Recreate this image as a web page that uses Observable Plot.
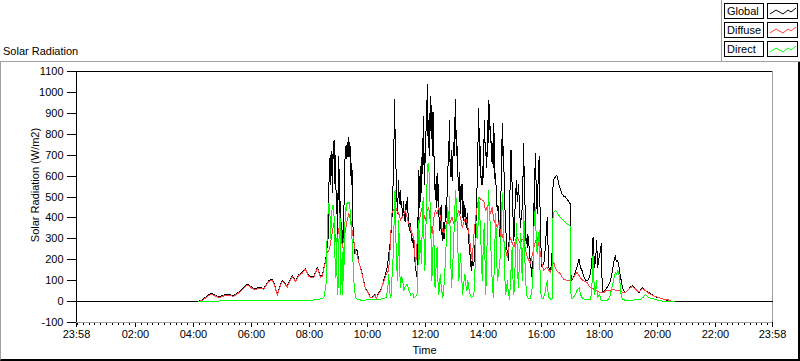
<!DOCTYPE html>
<html>
<head>
<meta charset="utf-8">
<script src="https://cdn.jsdelivr.net/npm/d3@7"></script>
<script src="https://cdn.jsdelivr.net/npm/@observablehq/plot@0.6"></script>
<style>
  html, body { margin: 0; padding: 0; background: #fff; }
  body { width: 800px; height: 361px; position: relative; overflow: hidden;
         font-family: "Liberation Sans", Arial, sans-serif; font-size: 11px; color: #000; }
  #panel { position: absolute; left: 0; top: 61px; width: 800px; height: 300px; box-sizing: border-box;
           border-top: 1px solid #a0a0a0; border-left: 1px solid #a0a0a0;
           border-right: 2px solid #000; border-bottom: 2px solid #000; }
  #chart { position: absolute; left: 0; top: 0; }
  #title { position: absolute; left: 3px; top: 45px; line-height: 13px; }
  #ylabel { position: absolute; left: 35px; top: 185px; transform: translate(-50%, -50%) rotate(-90deg);
            white-space: nowrap; line-height: 13px; }
  #legend { position: absolute; left: 721px; top: 0; width: 79px; height: 62px; box-sizing: border-box;
            border-left: 1px solid #a0a0a0; border-bottom: 1px solid #a0a0a0; background: #fff; }
  .lab { position: absolute; left: 2px; width: 40px; height: 16px; box-sizing: border-box; border: 1px solid #000;
         background: #fff; line-height: 14px; padding-left: 2px; }
  .smp { position: absolute; left: 45px; width: 31px; height: 16px; box-sizing: border-box; border: 1px solid #000;
         background: #fff; }
  .smp svg { position: absolute; left: 0; top: 0; }
  #chart svg path { shape-rendering: crispEdges; }
</style>
</head>
<body>
<div id="panel"></div>
<div id="chart"></div>
<div id="title">Solar Radiation</div>
<div id="ylabel"></div>
<div id="legend"></div>
<script>
// ---- data (hours since midnight, W/m2) ----
const seriesNames = ["Global", "Diffuse", "Direct"];
const seriesColors = ["#000000", "#ff4040", "#00ff00"];

const globalData = [[-0.0333,0],[4.15,0],[4.3,8],[4.45,25],[4.59,38],[4.7,35],[4.87,23],[5.0,28],[5.1,35],[5.25,33],[5.39,29],[5.5,40],[5.62,51],[5.75,70],[5.85,84],[5.95,75],[6.02,67],[6.14,60],[6.22,68],[6.31,67],[6.43,63],[6.52,85],[6.6,100],[6.71,108],[6.8,80],[6.89,35],[6.97,70],[7.06,100],[7.15,90],[7.23,72],[7.32,100],[7.4,124],[7.52,100],[7.63,128],[7.75,140],[7.86,159],[7.98,124],[8.06,120],[8.15,119],[8.27,164],[8.38,119],[8.44,124],[8.5,164],[8.56,200],
[8.61,260],[8.63,380],[8.65,300],[8.66,450],[8.68,620],[8.7,580],[8.71,700],[8.73,690],[8.74,560],[8.75,716],[8.77,600],[8.78,628],[8.8,520],[8.81,700],[8.83,740],[8.84,764],[8.85,640],[8.86,770],[8.87,600],[8.88,560],[8.89,700],[8.9,644],[8.92,500],[8.93,420],[8.95,520],[8.96,300],[8.98,420],[8.99,560],[9.0,640],[9.01,692],[9.03,560],[9.04,400],[9.06,480],[9.07,292],[9.09,380],[9.1,330],[9.12,280],[9.13,260],[9.15,340],[9.16,300],[9.18,388],[9.2,520],[9.21,600],[9.23,700],[9.24,740],[9.26,680],[9.28,748],[9.3,700],[9.31,760],[9.33,690],[9.34,720],[9.36,785],[9.37,700],[9.39,760],[9.4,680],[9.41,740],[9.43,600],[9.44,660],[9.46,560],[9.47,628],[9.49,450],[9.5,360],[9.53,292],[9.57,230],[9.62,250],[9.65,244],[9.7,190],[9.76,164],[9.82,130],[9.87,100],[9.93,60],[9.99,55],[10.05,35],[10.1,19],[10.16,19],[10.22,30],[10.28,35],[10.3,15],[10.34,27],[10.39,43],[10.45,51],[10.5,75],[10.56,100],[10.62,130],[10.68,164],[10.73,220],[10.79,292],
[10.84,380],[10.86,460],[10.87,520],[10.89,580],[10.9,700],[10.92,800],[10.94,965],[10.95,820],[10.96,700],[10.98,640],[11.0,612],[11.01,520],[11.03,420],[11.05,480],[11.06,520],[11.08,580],[11.09,500],[11.11,470],[11.12,520],[11.14,532],[11.16,450],[11.18,480],[11.2,420],[11.22,400],[11.24,480],[11.25,452],[11.27,400],[11.3,380],[11.32,440],[11.33,470],[11.35,440],[11.37,500],[11.38,440],[11.4,420],[11.42,360],[11.43,380],[11.46,340],[11.48,372],[11.5,330],[11.52,320],[11.54,280],[11.56,300],[11.58,260],[11.6,292],[11.62,240],[11.63,200],[11.65,180],[11.66,164],[11.68,140],[11.69,130],
[11.71,115],[11.72,300],[11.73,400],[11.74,300],[11.75,560],[11.76,480],[11.77,628],[11.78,450],[11.8,520],[11.81,600],[11.82,480],[11.83,640],[11.84,560],[11.85,692],[11.86,520],[11.88,600],[11.89,700],[11.9,780],[11.91,620],[11.92,885],[11.93,700],[11.95,650],[11.96,560],[11.97,708],[11.98,620],[12.0,800],[12.01,700],[12.03,960],[12.04,820],[12.06,1037],[12.07,860],[12.08,900],[12.09,760],[12.11,868],[12.12,740],[12.14,700],[12.15,860],[12.17,980],[12.18,820],[12.2,940],[12.21,780],[12.23,800],[12.24,700],[12.26,908],[12.27,720],[12.29,760],[12.3,620],[12.32,692],[12.33,520],[12.35,560],[12.37,450],[12.4,612],[12.41,500],[12.43,480],[12.44,560],[12.46,420],[12.48,380],[12.5,340],[12.52,420],[12.54,460],[12.56,350],[12.58,292],[12.6,340],[12.62,380],[12.64,300],[12.66,324],[12.68,400],[12.7,460],[12.72,400],[12.75,532],[12.77,620],[12.79,700],[12.81,760],[12.83,868],[12.84,700],[12.86,600],[12.88,680],[12.9,720],[12.91,600],[12.93,580],[12.95,700],[12.97,760],[12.99,700],[13.01,880],[13.02,780],[13.04,965],[13.05,800],[13.07,820],[13.08,700],[13.1,740],[13.12,600],[13.15,532],[13.16,620],[13.18,480],[13.19,560],[13.21,420],[13.23,500],[13.26,560],[13.27,450],[13.29,400],[13.3,480],[13.32,388],[13.34,420],[13.36,460],[13.38,380],[13.41,356],[13.43,400],[13.45,420],[13.47,330],[13.49,292],[13.51,260],[13.54,220],[13.56,180],[13.58,148],[13.6,190],[13.62,200],[13.64,170],[13.67,180],[13.7,250],[13.72,300],[13.74,380],[13.76,420],[13.78,560],[13.8,700],[13.82,800],[13.84,925],[13.85,780],[13.87,800],[13.88,650],[13.9,740],[13.91,600],[13.93,560],[13.95,600],[13.96,644],[13.98,560],[14.0,700],[14.02,780],[14.04,868],[14.06,700],[14.08,760],[14.1,640],[14.13,708],[14.14,800],[14.16,880],[14.17,760],[14.19,965],[14.2,820],[14.22,917],[14.23,760],[14.25,836],[14.27,700],[14.3,660],[14.31,700],[14.33,760],[14.34,640],[14.36,853],[14.37,720],[14.39,700],[14.4,560],[14.42,612],[14.45,480],[14.48,436],[14.5,460],[14.53,388],[14.55,340],[14.57,308],[14.58,420],[14.6,500],[14.62,620],[14.63,700],[14.64,780],[14.65,853],[14.67,700],[14.7,740],[14.71,600],[14.73,560],[14.74,450],[14.76,372],[14.79,300],[14.82,228],[14.85,250],[14.87,196],[14.89,350],[14.91,500],[14.93,620],[14.95,725],[14.96,640],[14.98,600],[15.0,480],[15.02,400],[15.04,340],[15.05,292],[15.07,380],[15.09,450],[15.11,520],[15.14,580],[15.16,500],[15.18,480],[15.2,560],[15.22,532],[15.25,420],[15.28,356],[15.3,400],[15.32,420],[15.34,460],[15.35,500],[15.37,640],[15.39,756],[15.4,620],[15.42,560],[15.44,400],[15.46,292],[15.49,300],[15.51,260],[15.53,320],[15.55,300],[15.58,250],[15.6,212],[15.65,150],[15.69,100],[15.72,250],[15.74,468],[15.75,380],[15.77,600],[15.79,708],[15.8,620],[15.82,560],[15.84,480],[15.85,420],[15.87,520],[15.89,600],[15.92,692],[15.93,560],[15.95,450],[15.97,292],[16.02,164],[16.06,180],[16.1,196],[16.15,300],[16.2,404],[16.23,250],[16.25,164],[16.31,148],[16.36,196],[16.38,400],[16.4,564],[16.44,590],[16.48,596],[16.53,604],[16.56,590],[16.6,560],[16.63,548],[16.7,516],[16.76,505],[16.83,500],[16.91,484],[16.97,470],[17.0,468],[17.02,100],[17.11,115],[17.16,140],[17.22,164],[17.3,204],[17.34,164],[17.4,148],[17.46,120],[17.52,100],[17.6,100],[17.69,132],[17.74,200],[17.78,308],[17.8,250],[17.83,164],[17.87,200],[17.9,292],[17.94,164],[17.97,200],[18.01,228],[18.04,250],[18.06,276],[18.08,150],[18.1,51],[18.15,43],[18.2,55],[18.26,67],[18.32,80],[18.38,100],[18.44,140],[18.49,188],[18.52,200],[18.55,220],[18.58,190],[18.63,196],[18.67,170],[18.7,140],[18.75,100],[18.79,67],[18.85,50],[18.9,43],[18.95,50],[19.01,60],[19.07,70],[19.13,75],[19.19,68],[19.25,60],[19.3,50],[19.36,43],[19.42,55],[19.48,67],[19.53,60],[19.59,51],[19.65,47],[19.7,43],[19.8,35],[19.88,27],[19.96,22],[20.04,19],[20.12,15],[20.21,12],[20.33,6],[20.45,3],[20.57,0],[23.9667,0]];

const diffuseData = [[4.17,0],[4.3,5],[4.45,21],[4.59,34],[4.7,31],[4.87,19],[5.0,24],[5.1,31],[5.25,29],[5.39,25],[5.5,36],[5.62,47],[5.75,66],[5.85,80],[5.95,71],[6.02,63],[6.14,56],[6.22,64],[6.31,63],[6.43,59],[6.52,81],[6.6,96],[6.71,104],[6.8,76],[6.89,31],[6.97,66],[7.06,96],[7.15,86],[7.23,68],[7.32,96],[7.4,120],[7.52,96],[7.63,124],[7.75,136],[7.86,155],[7.98,120],[8.06,116],[8.15,115],[8.27,160],[8.38,115],[8.44,120],[8.5,160],[8.56,192],[8.61,235],[8.67,243],[8.7,260],[8.75,300],[8.8,340],[8.84,372],[8.87,330],[8.9,308],[8.93,260],[8.96,300],[9.0,340],[9.04,360],[9.07,372],[9.1,320],[9.13,260],[9.17,290],[9.2,308],[9.25,350],[9.3,388],[9.36,420],[9.4,400],[9.43,388],[9.47,340],[9.53,292],[9.59,229],[9.65,220],[9.7,190],[9.76,160],[9.82,128],[9.87,98],[9.93,58],[9.99,53],[10.05,33],[10.1,18],[10.16,18],[10.22,28],[10.28,33],[10.3,14],[10.34,25],[10.39,41],[10.45,49],[10.5,72],[10.56,96],[10.62,120],[10.68,140],[10.73,148],[10.78,250],[10.84,420],[10.9,440],[10.97,452],[11.03,430],[11.08,420],[11.14,390],[11.2,404],[11.26,420],[11.31,436],[11.37,400],[11.43,372],[11.5,340],[11.55,320],[11.6,308],[11.63,230],[11.66,172],[11.7,250],[11.73,340],[11.77,372],[11.83,420],[11.89,452],[11.94,420],[12.0,388],[12.05,430],[12.11,452],[12.17,380],[12.23,324],[12.29,400],[12.34,436],[12.4,420],[12.46,452],[12.52,400],[12.58,340],[12.64,330],[12.69,356],[12.75,390],[12.8,420],[12.86,380],[12.92,404],[12.98,370],[13.04,388],[13.1,410],[13.15,436],[13.21,400],[13.27,356],[13.33,380],[13.38,404],[13.44,370],[13.49,340],[13.55,260],[13.61,196],[13.66,300],[13.72,388],[13.78,450],[13.84,500],[13.9,490],[13.96,484],[14.01,484],[14.07,436],[14.13,452],[14.19,468],[14.24,420],[14.3,452],[14.36,388],[14.42,372],[14.48,356],[14.55,388],[14.59,308],[14.65,320],[14.7,292],[14.76,250],[14.82,212],[14.88,260],[14.93,308],[14.99,280],[15.05,260],[15.1,290],[15.16,308],[15.22,290],[15.28,276],[15.33,300],[15.39,292],[15.45,250],[15.51,212],[15.56,200],[15.62,180],[15.68,220],[15.74,260],[15.8,290],[15.85,308],[15.91,270],[15.97,228],[16.02,180],[16.08,148],[16.14,160],[16.2,164],[16.25,150],[16.31,140],[16.36,170],[16.42,188],[16.47,165],[16.53,148],[16.59,140],[16.65,132],[16.7,120],[16.76,108],[16.82,104],[16.88,100],[16.94,100],[17.0,100],[17.05,108],[17.11,115],[17.16,128],[17.22,140],[17.28,128],[17.34,115],[17.4,105],[17.45,100],[17.51,95],[17.57,91],[17.62,80],[17.68,67],[17.74,62],[17.8,60],[17.86,55],[17.91,51],[17.97,47],[18.03,43],[18.09,43],[18.15,43],[18.2,50],[18.26,55],[18.32,52],[18.38,51],[18.44,56],[18.49,60],[18.55,55],[18.61,51],[18.67,53],[18.72,51],[18.78,46],[18.84,43],[18.9,45],[18.95,52],[19.01,60],[19.07,67],[19.13,72],[19.19,66],[19.25,60],[19.3,52],[19.36,45],[19.42,54],[19.48,62],[19.53,58],[19.59,51],[19.65,45],[19.7,40],[19.76,35],[19.85,28],[19.93,24],[19.99,22],[20.1,16],[20.2,12],[20.33,10],[20.45,4],[20.55,0]];

const directData = [[4.17,0],[4.5,2],[5,3],[5.5,3],[6,4],[6.5,3],[7,4],[7.5,5],[8,6],[8.3,10],[8.5,19],[8.57,80],[8.61,316],[8.64,420],[8.67,468],[8.7,452],[8.73,300],[8.76,420],[8.8,460],[8.84,460],[8.86,308],[8.9,115],[8.93,300],[8.96,35],[8.98,35],[9.01,250],[9.04,420],[9.06,388],[9.08,35],[9.11,200],[9.13,35],[9.16,260],[9.18,100],[9.21,300],[9.24,452],[9.27,436],[9.3,476],[9.34,470],[9.36,476],[9.39,460],[9.41,420],[9.44,350],[9.47,292],[9.5,196],[9.53,100],[9.56,51],[9.59,19],[9.65,12],[9.8,6],[10.0,8],[10.2,10],[10.35,12],[10.45,12],[10.55,15],[10.65,20],[10.7,60],[10.73,132],[10.77,40],[10.81,20],[10.84,100],[10.88,200],[10.92,388],[10.95,532],[10.98,300],[11.03,100],[11.06,250],[11.08,388],[11.11,150],[11.14,67],[11.18,120],[11.22,100],[11.25,51],[11.3,70],[11.37,84],[11.43,51],[11.5,30],[11.56,40],[11.6,19],[11.66,25],[11.71,35],[11.74,150],[11.77,388],[11.8,200],[11.83,292],[11.86,180],[11.9,420],[11.92,500],[11.95,300],[11.98,150],[12.0,260],[12.04,500],[12.07,640],[12.09,660],[12.12,628],[12.15,500],[12.17,420],[12.2,250],[12.22,100],[12.25,220],[12.28,340],[12.31,200],[12.33,67],[12.37,180],[12.4,260],[12.43,100],[12.46,35],[12.49,90],[12.51,132],[12.55,60],[12.6,19],[12.64,80],[12.69,196],[12.72,300],[12.77,452],[12.8,372],[12.83,500],[12.86,250],[12.9,67],[12.93,150],[12.96,228],[13.0,400],[13.04,532],[13.07,450],[13.1,340],[13.15,100],[13.18,160],[13.21,228],[13.25,120],[13.28,35],[13.32,90],[13.36,132],[13.4,70],[13.43,51],[13.46,100],[13.5,60],[13.55,30],[13.58,19],[13.63,25],[13.67,35],[13.7,120],[13.73,250],[13.76,372],[13.8,300],[13.84,500],[13.87,420],[13.9,340],[13.93,200],[13.96,100],[14.0,300],[14.03,372],[14.06,150],[14.08,35],[14.12,250],[14.17,532],[14.2,450],[14.23,372],[14.27,200],[14.3,100],[14.34,19],[14.38,200],[14.42,420],[14.45,250],[14.48,100],[14.52,130],[14.55,180],[14.59,228],[14.62,400],[14.65,516],[14.68,420],[14.7,340],[14.73,150],[14.76,35],[14.8,60],[14.82,100],[14.86,40],[14.9,12],[14.95,150],[14.99,260],[15.02,100],[15.05,35],[15.1,200],[15.14,372],[15.17,200],[15.2,67],[15.24,180],[15.28,324],[15.31,200],[15.34,100],[15.37,300],[15.39,436],[15.42,250],[15.45,100],[15.5,30],[15.51,19],[15.6,12],[15.66,40],[15.69,84],[15.72,200],[15.74,356],[15.77,420],[15.79,452],[15.82,300],[15.85,228],[15.89,300],[15.92,340],[15.95,150],[15.98,40],[16.0,19],[16.06,12],[16.12,40],[16.17,80],[16.2,100],[16.23,40],[16.26,19],[16.31,12],[16.37,12],[16.39,300],[16.4,420],[16.44,430],[16.48,436],[16.53,428],[16.59,415],[16.65,404],[16.7,395],[16.76,388],[16.82,380],[16.88,372],[16.97,364],[17.0,360],[17.02,12],[17.1,19],[17.17,35],[17.22,51],[17.26,60],[17.3,67],[17.34,35],[17.4,19],[17.46,12],[17.52,12],[17.6,10],[17.7,12],[17.75,100],[17.78,228],[17.81,100],[17.83,35],[17.87,60],[17.9,100],[17.93,19],[17.97,30],[18.01,35],[18.04,10],[18.06,6],[18.15,4],[18.26,3],[18.35,20],[18.43,67],[18.5,110],[18.55,140],[18.59,130],[18.63,148],[18.67,130],[18.7,100],[18.74,40],[18.79,12],[18.9,5],[19.0,3],[19.1,4],[19.2,8],[19.3,12],[19.4,10],[19.5,20],[19.59,35],[19.65,25],[19.7,19],[19.8,14],[19.88,12],[19.97,8],[20.1,3],[20.3,2],[20.5,0],[20.6,0]];

const xStart = -2 / 60;          // 23:58 previous day
const xEnd = 24 - 2 / 60;        // 23:58
const xTickHours = [xStart, 2, 4, 6, 8, 10, 12, 14, 16, 18, 20, 22, xEnd];
const xTickLabels = ["23:58", "02:00", "04:00", "06:00", "08:00", "10:00", "12:00", "14:00", "16:00", "18:00", "20:00", "22:00", "23:58"];
const xMinorHours = d3.range(0, 120).map(i => i / 5).filter(h => !xTickHours.some(t => Math.abs(t - h) < 1e-6));
const yTicks = [-100, 0, 100, 200, 300, 400, 500, 600, 700, 800, 900, 1000, 1100];
const yLabel = "Solar Radiation (W/m2)";
const xLabel = "Time";

const allSeries = [globalData, diffuseData, directData];

const labelFor = d => xTickLabels[xTickHours.findIndex(h => Math.abs(h - d) < 1e-6)];

const chart = Plot.plot({
  width: 800,
  height: 361,
  marginLeft: 76, marginRight: 28, marginTop: 71, marginBottom: 39,
  style: { fontFamily: "'Liberation Sans', Arial, sans-serif", fontSize: "11px", color: "#000", background: "transparent", overflow: "visible" },
  x: { domain: [xStart, xEnd], label: null },
  y: { domain: [-100, 1100], label: null },
  marks: [
    Plot.axisY({ ticks: yTicks, tickSize: 9, tickPadding: 4, label: null, tickFormat: d => String(d) }),
    Plot.axisX({ ticks: xMinorHours, tickSize: 3, tickPadding: 0, label: null, tickFormat: () => "" }),
    Plot.axisX({ ticks: xTickHours, tickSize: 5, tickPadding: 3, label: null, tickFormat: labelFor }),
    Plot.ruleY([1100], { stroke: "#000" }),
    Plot.ruleX([xStart], { stroke: "#000" }),
    Plot.ruleY([-100], { stroke: "#a0a0a0" }),
    Plot.ruleX([xEnd], { stroke: "#a0a0a0" }),
    ...allSeries.map((s, i) => Plot.line(s, { x: d => d[0], y: d => d[1], stroke: seriesColors[i], strokeWidth: 1 })),
    Plot.text([xLabel], { frameAnchor: "bottom", dy: 31, text: d => d })
  ]
});
document.getElementById("chart").appendChild(chart);
document.getElementById("ylabel").textContent = yLabel;

// legend
const legend = document.getElementById("legend");
const samplePts = "2,10 8,6 15,10 20,6 23,8 28,4";
seriesNames.forEach((name, i) => {
  const top = 3 + i * 19;
  const lab = document.createElement("div");
  lab.className = "lab"; lab.style.top = top + "px"; lab.textContent = name;
  legend.appendChild(lab);
  const smp = document.createElement("div");
  smp.className = "smp"; smp.style.top = top + "px";
  smp.innerHTML = `<svg width="29" height="14"><polyline points="${samplePts}" fill="none" stroke="${seriesColors[i]}" stroke-width="1"/></svg>`;
  legend.appendChild(smp);
});
</script>
</body>
</html>
